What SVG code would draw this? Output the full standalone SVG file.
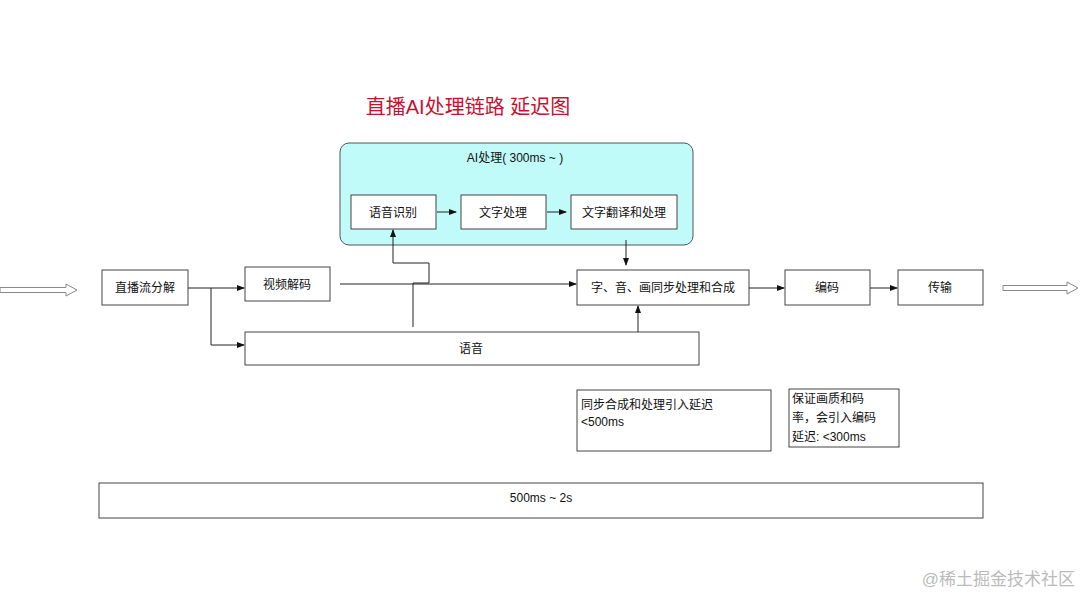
<svg xmlns="http://www.w3.org/2000/svg" width="1080" height="608" viewBox="0 0 1080 608">
<style>
text{font-family:"Liberation Sans","Noto Sans CJK SC",sans-serif;font-size:12px;fill:#111}
.b{fill:#fff;stroke:#444;stroke-width:1}
.c{text-anchor:middle}
.l{fill:none;stroke:#222;stroke-width:1}
.h{fill:#fff;stroke:#888;stroke-width:1}
</style>
<defs><marker id="a" markerWidth="8" markerHeight="8" refX="7" refY="4" orient="auto" markerUnits="userSpaceOnUse"><path d="M0,1 L8,4 L0,7 Z" fill="#111"/></marker></defs>
<rect width="1080" height="608" fill="#fff"/>
<text x="468" y="114" class="c" style="font-size:20px;fill:#c8102e">直播AI处理链路 延迟图</text>
<g id="ai"><rect x="340" y="143" width="353" height="102" rx="9" fill="#c0fbf9" stroke="#555"/><text x="515" y="162" class="c">AI处理( 300ms ~ )</text></g>
<g id="asr"><rect class="b" x="351" y="195" width="85" height="34"/><text x="393" y="217" class="c">语音识别</text></g>
<g id="txt"><rect class="b" x="461" y="195" width="85" height="34"/><text x="503" y="217" class="c">文字处理</text></g>
<g id="tr"><rect class="b" x="571" y="195" width="106" height="34"/><text x="624" y="217" class="c">文字翻译和处理</text></g>
<g id="split"><rect class="b" x="102" y="270" width="86" height="35"/><text x="145" y="292" class="c">直播流分解</text></g>
<g id="vd"><rect class="b" x="245" y="267" width="85" height="34"/><text x="287" y="289" class="c">视频解码</text></g>
<g id="sync"><rect class="b" x="577" y="270" width="172" height="35"/><text x="663" y="292" class="c">字、音、画同步处理和合成</text></g>
<g id="enc"><rect class="b" x="785" y="270" width="85" height="35"/><text x="827" y="292" class="c">编码</text></g>
<g id="tx"><rect class="b" x="898" y="270" width="85" height="35"/><text x="940" y="292" class="c">传输</text></g>
<g id="audio"><rect class="b" x="245" y="332" width="454" height="33"/><text x="471" y="353" class="c">语音</text></g>
<g id="n1"><rect class="b" x="577" y="390" width="194" height="61"/><text x="581" y="409">同步合成和处理引入延迟</text><text x="581" y="426">&lt;500ms</text></g>
<g id="n2"><rect class="b" x="789" y="389" width="110" height="58"/><text x="792" y="403">保证画质和码</text><text x="792" y="422">率，会引入编码</text><text x="792" y="441">延迟: &lt;300ms</text></g>
<g id="total"><rect class="b" x="99" y="483" width="884" height="35"/><text x="541" y="502" class="c">500ms ~ 2s</text></g>
<g id="connectors">
<path class="h" d="M0,287.5 H66 V284 L77,290 L66,296 V292.5 H0 Z"/>
<path class="h" d="M1003,285.5 H1067 V282 L1078,288 L1067,294 V290.5 H1003 Z"/>
<path class="l" d="M437,212 H456" marker-end="url(#a)"/>
<path class="l" d="M547,212 H566" marker-end="url(#a)"/>
<path class="l" d="M626,240 V265" marker-end="url(#a)"/>
<path class="l" d="M188,288 H244" marker-end="url(#a)"/>
<path class="l" d="M211,288 V345 H244" marker-end="url(#a)"/>
<path class="l" d="M340,284 H576" marker-end="url(#a)"/>
<path class="l" d="M413,327 V283 H429 V263 H393 V230" marker-end="url(#a)"/>
<path class="l" d="M638,332 V306" marker-end="url(#a)"/>
<path class="l" d="M749,288 H784" marker-end="url(#a)"/>
<path class="l" d="M870,288 H897" marker-end="url(#a)"/>
</g>
<text x="1075" y="585" style="font-size:17px;fill:#bbb;text-anchor:end">@稀土掘金技术社区</text>
</svg>
